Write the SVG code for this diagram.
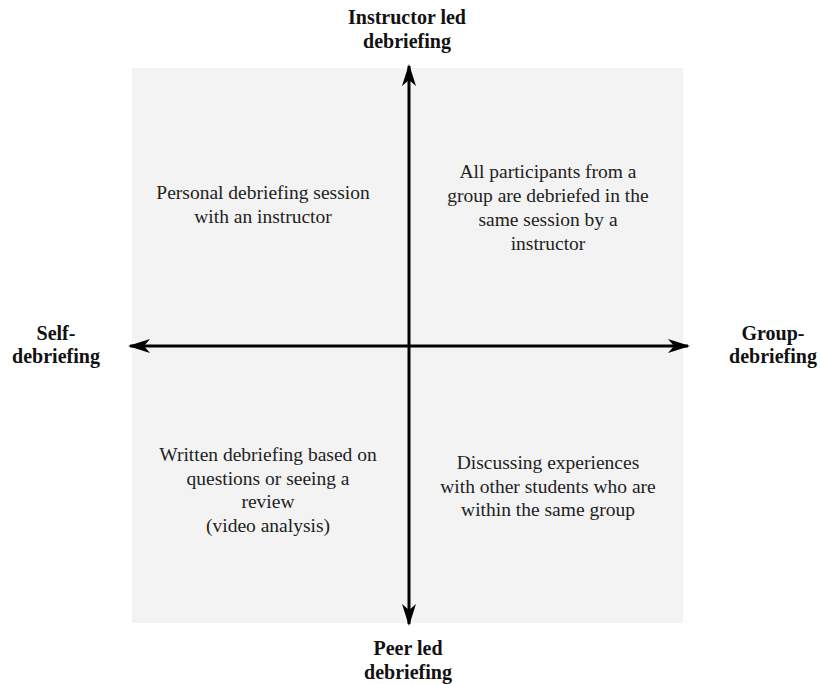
<svg xmlns="http://www.w3.org/2000/svg" width="821" height="684" viewBox="0 0 821 684">
  <style>
    .axis-label { font-family: "Liberation Serif", "Times New Roman", serif; font-size: 20px; font-weight: bold; fill: #111; text-anchor: middle; }
    .quad { font-family: "Liberation Serif", "Times New Roman", serif; font-size: 19.5px; fill: #222; text-anchor: middle; }
    .axis { stroke: #000; stroke-width: 3; fill: none; }
  </style>
  <defs>
    <marker id="head" viewBox="0 0 22 14" refX="20" refY="7" markerWidth="22" markerHeight="14" markerUnits="userSpaceOnUse" orient="auto-start-reverse">
      <path d="M0,0 L22,7 L0,14 L6,7 Z" fill="#000"/>
    </marker>
  </defs>

  <rect width="821" height="684" fill="#ffffff"/>

  <!-- quadrant background -->
  <g id="field">
    <rect x="132" y="68" width="551" height="555" fill="#f3f3f3"/>
  </g>

  <!-- axes -->
  <g id="connectors">
    <line class="axis" x1="409" y1="345" x2="409" y2="66" marker-end="url(#head)"/>
    <line class="axis" x1="409" y1="345" x2="409" y2="624" marker-end="url(#head)"/>
    <line class="axis" x1="409" y1="346" x2="130" y2="346" marker-end="url(#head)"/>
    <line class="axis" x1="409" y1="346" x2="688" y2="346" marker-end="url(#head)"/>
  </g>

  <!-- axis labels -->
  <g id="top-label">
    <text class="axis-label" x="407" y="24">Instructor led</text>
    <text class="axis-label" x="407" y="48">debriefing</text>
  </g>
  <g id="bottom-label">
    <text class="axis-label" x="408" y="655">Peer led</text>
    <text class="axis-label" x="408" y="679">debriefing</text>
  </g>
  <g id="left-label">
    <text class="axis-label" x="56" y="340">Self-</text>
    <text class="axis-label" x="56" y="363">debriefing</text>
  </g>
  <g id="right-label">
    <text class="axis-label" x="773" y="340">Group-</text>
    <text class="axis-label" x="773" y="363">debriefing</text>
  </g>

  <!-- quadrant descriptions -->
  <g id="q-top-left">
    <text class="quad" x="263" y="199">Personal debriefing session</text>
    <text class="quad" x="263" y="223">with an instructor</text>
  </g>
  <g id="q-top-right">
    <text class="quad" x="548" y="178">All participants from a</text>
    <text class="quad" x="548" y="202">group are debriefed in the</text>
    <text class="quad" x="548" y="226">same session by a</text>
    <text class="quad" x="548" y="250">instructor</text>
  </g>
  <g id="q-bottom-left">
    <text class="quad" x="268" y="461">Written debriefing based on</text>
    <text class="quad" x="268" y="485">questions or seeing a</text>
    <text class="quad" x="268" y="508">review</text>
    <text class="quad" x="268" y="532">(video analysis)</text>
  </g>
  <g id="q-bottom-right">
    <text class="quad" x="548" y="469">Discussing experiences</text>
    <text class="quad" x="548" y="493">with other students who are</text>
    <text class="quad" x="548" y="516">within the same group</text>
  </g>
</svg>
